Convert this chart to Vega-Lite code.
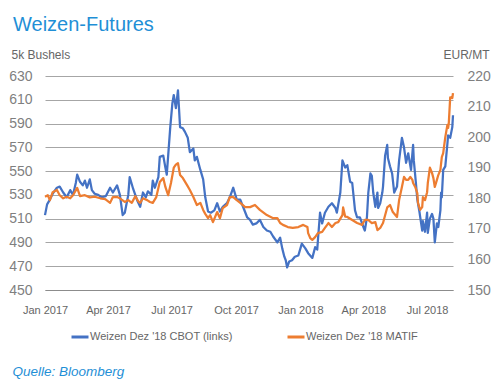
{
  "$schema": "https://vega.github.io/schema/vega-lite/v6.json",
  "width": 408,
  "height": 214,
  "autosize": {"type": "none"},
  "padding": {"left": 45, "top": 76, "right": 44, "bottom": 97},
  "background": "white",
  "title": {"text": "Weizen-Futures", "anchor": "start", "frame": "group", "dx": -32, "offset": -3, "baseline": "alphabetic", "font": "Liberation Sans", "fontSize": 20, "fontWeight": "normal", "color": "#1f8fd6"},
  "config": {
    "view": {"stroke": null},
    "axis": {"labelFont": "Liberation Sans", "titleFont": "Liberation Sans"},
    "legend": {"labelFont": "Liberation Sans", "titleFont": "Liberation Sans"}
  },
  "datasets": {
    "cbot": [
      {"d": "2017-01-01", "v": 513}, {"d": "2017-01-04", "v": 522}, {"d": "2017-01-08", "v": 526}, {"d": "2017-01-12", "v": 531},
      {"d": "2017-01-18", "v": 536}, {"d": "2017-01-22", "v": 537}, {"d": "2017-01-27", "v": 532}, {"d": "2017-02-01", "v": 528},
      {"d": "2017-02-06", "v": 534}, {"d": "2017-02-10", "v": 530}, {"d": "2017-02-14", "v": 540}, {"d": "2017-02-16", "v": 547},
      {"d": "2017-02-20", "v": 541}, {"d": "2017-02-24", "v": 538}, {"d": "2017-02-27", "v": 542}, {"d": "2017-03-02", "v": 536},
      {"d": "2017-03-06", "v": 543}, {"d": "2017-03-09", "v": 534}, {"d": "2017-03-13", "v": 531}, {"d": "2017-03-18", "v": 530},
      {"d": "2017-03-23", "v": 528}, {"d": "2017-03-29", "v": 529}, {"d": "2017-04-04", "v": 536}, {"d": "2017-04-08", "v": 532},
      {"d": "2017-04-14", "v": 538}, {"d": "2017-04-18", "v": 530}, {"d": "2017-04-22", "v": 513}, {"d": "2017-04-25", "v": 515},
      {"d": "2017-04-30", "v": 530}, {"d": "2017-05-02", "v": 545}, {"d": "2017-05-07", "v": 535}, {"d": "2017-05-13", "v": 525},
      {"d": "2017-05-17", "v": 520}, {"d": "2017-05-21", "v": 532}, {"d": "2017-05-25", "v": 528}, {"d": "2017-05-28", "v": 533},
      {"d": "2017-06-02", "v": 530}, {"d": "2017-06-04", "v": 542}, {"d": "2017-06-07", "v": 536}, {"d": "2017-06-12", "v": 545},
      {"d": "2017-06-14", "v": 562}, {"d": "2017-06-19", "v": 563}, {"d": "2017-06-22", "v": 553}, {"d": "2017-06-24", "v": 547},
      {"d": "2017-06-29", "v": 587}, {"d": "2017-07-02", "v": 607}, {"d": "2017-07-04", "v": 614}, {"d": "2017-07-07", "v": 603},
      {"d": "2017-07-10", "v": 618}, {"d": "2017-07-13", "v": 587}, {"d": "2017-07-17", "v": 586}, {"d": "2017-07-20", "v": 583},
      {"d": "2017-07-24", "v": 578}, {"d": "2017-07-27", "v": 566}, {"d": "2017-08-01", "v": 569}, {"d": "2017-08-03", "v": 559},
      {"d": "2017-08-06", "v": 562}, {"d": "2017-08-11", "v": 551}, {"d": "2017-08-15", "v": 543}, {"d": "2017-08-18", "v": 528},
      {"d": "2017-08-22", "v": 516}, {"d": "2017-08-26", "v": 515}, {"d": "2017-08-31", "v": 517}, {"d": "2017-09-04", "v": 523},
      {"d": "2017-09-08", "v": 516}, {"d": "2017-09-12", "v": 520}, {"d": "2017-09-18", "v": 523}, {"d": "2017-09-22", "v": 528},
      {"d": "2017-09-27", "v": 536}, {"d": "2017-10-02", "v": 526}, {"d": "2017-10-07", "v": 526}, {"d": "2017-10-11", "v": 520},
      {"d": "2017-10-17", "v": 511}, {"d": "2017-10-21", "v": 509}, {"d": "2017-10-25", "v": 505}, {"d": "2017-10-30", "v": 506},
      {"d": "2017-11-04", "v": 509}, {"d": "2017-11-09", "v": 503}, {"d": "2017-11-14", "v": 500}, {"d": "2017-11-19", "v": 499},
      {"d": "2017-11-23", "v": 495}, {"d": "2017-11-29", "v": 490}, {"d": "2017-12-03", "v": 494}, {"d": "2017-12-06", "v": 485},
      {"d": "2017-12-09", "v": 478}, {"d": "2017-12-11", "v": 475}, {"d": "2017-12-13", "v": 469}, {"d": "2017-12-16", "v": 474},
      {"d": "2017-12-20", "v": 475}, {"d": "2017-12-24", "v": 478}, {"d": "2017-12-29", "v": 479}, {"d": "2018-01-03", "v": 489},
      {"d": "2018-01-08", "v": 485}, {"d": "2018-01-12", "v": 481}, {"d": "2018-01-18", "v": 477}, {"d": "2018-01-22", "v": 486},
      {"d": "2018-01-25", "v": 484}, {"d": "2018-01-26", "v": 492}, {"d": "2018-01-29", "v": 515}, {"d": "2018-02-01", "v": 506},
      {"d": "2018-02-05", "v": 515}, {"d": "2018-02-10", "v": 520}, {"d": "2018-02-15", "v": 523}, {"d": "2018-02-20", "v": 519},
      {"d": "2018-02-22", "v": 515}, {"d": "2018-02-27", "v": 532}, {"d": "2018-03-02", "v": 559}, {"d": "2018-03-06", "v": 553},
      {"d": "2018-03-09", "v": 555}, {"d": "2018-03-13", "v": 541}, {"d": "2018-03-16", "v": 540}, {"d": "2018-03-20", "v": 517},
      {"d": "2018-03-23", "v": 511}, {"d": "2018-03-27", "v": 511}, {"d": "2018-04-01", "v": 503}, {"d": "2018-04-03", "v": 500},
      {"d": "2018-04-06", "v": 511}, {"d": "2018-04-08", "v": 532}, {"d": "2018-04-11", "v": 548}, {"d": "2018-04-13", "v": 546},
      {"d": "2018-04-15", "v": 532}, {"d": "2018-04-18", "v": 520}, {"d": "2018-04-21", "v": 532}, {"d": "2018-04-22", "v": 519},
      {"d": "2018-04-25", "v": 523}, {"d": "2018-04-28", "v": 532}, {"d": "2018-04-29", "v": 537}, {"d": "2018-05-02", "v": 563},
      {"d": "2018-05-05", "v": 572}, {"d": "2018-05-06", "v": 561}, {"d": "2018-05-09", "v": 554}, {"d": "2018-05-12", "v": 548},
      {"d": "2018-05-15", "v": 532}, {"d": "2018-05-19", "v": 537}, {"d": "2018-05-22", "v": 559}, {"d": "2018-05-26", "v": 578},
      {"d": "2018-05-29", "v": 570}, {"d": "2018-06-01", "v": 557}, {"d": "2018-06-04", "v": 565}, {"d": "2018-06-08", "v": 551},
      {"d": "2018-06-11", "v": 572}, {"d": "2018-06-12", "v": 559}, {"d": "2018-06-15", "v": 540}, {"d": "2018-06-17", "v": 526},
      {"d": "2018-06-20", "v": 516}, {"d": "2018-06-21", "v": 512}, {"d": "2018-06-24", "v": 500}, {"d": "2018-06-25", "v": 508},
      {"d": "2018-06-28", "v": 499}, {"d": "2018-07-01", "v": 515}, {"d": "2018-07-02", "v": 498}, {"d": "2018-07-05", "v": 510},
      {"d": "2018-07-08", "v": 514}, {"d": "2018-07-10", "v": 510}, {"d": "2018-07-12", "v": 490}, {"d": "2018-07-15", "v": 506},
      {"d": "2018-07-17", "v": 503}, {"d": "2018-07-20", "v": 517}, {"d": "2018-07-21", "v": 532}, {"d": "2018-07-22", "v": 528},
      {"d": "2018-07-24", "v": 551}, {"d": "2018-07-27", "v": 554}, {"d": "2018-07-30", "v": 573}, {"d": "2018-07-31", "v": 580},
      {"d": "2018-08-03", "v": 578}, {"d": "2018-08-06", "v": 587}, {"d": "2018-08-07", "v": 597}
    ],
    "matif": [
      {"d": "2017-01-01", "v": 180.5}, {"d": "2017-01-05", "v": 181}, {"d": "2017-01-08", "v": 179.4}, {"d": "2017-01-12", "v": 182},
      {"d": "2017-01-18", "v": 182.7}, {"d": "2017-01-22", "v": 181}, {"d": "2017-01-27", "v": 180}, {"d": "2017-02-01", "v": 180.5},
      {"d": "2017-02-06", "v": 180}, {"d": "2017-02-10", "v": 181}, {"d": "2017-02-16", "v": 183.4}, {"d": "2017-02-20", "v": 180.7},
      {"d": "2017-02-27", "v": 181}, {"d": "2017-03-06", "v": 180.3}, {"d": "2017-03-13", "v": 180.5}, {"d": "2017-03-21", "v": 180},
      {"d": "2017-03-28", "v": 179.7}, {"d": "2017-04-04", "v": 178.5}, {"d": "2017-04-08", "v": 180.4}, {"d": "2017-04-14", "v": 180.4},
      {"d": "2017-04-18", "v": 180}, {"d": "2017-04-25", "v": 178.8}, {"d": "2017-04-30", "v": 179.4}, {"d": "2017-05-05", "v": 178.5},
      {"d": "2017-05-10", "v": 180.7}, {"d": "2017-05-14", "v": 179.1}, {"d": "2017-05-17", "v": 178.5}, {"d": "2017-05-21", "v": 180},
      {"d": "2017-05-27", "v": 179.4}, {"d": "2017-05-31", "v": 178.8}, {"d": "2017-06-04", "v": 178.5}, {"d": "2017-06-09", "v": 180.4},
      {"d": "2017-06-14", "v": 185.3}, {"d": "2017-06-19", "v": 186.6}, {"d": "2017-06-22", "v": 183.7}, {"d": "2017-06-26", "v": 181},
      {"d": "2017-06-30", "v": 185}, {"d": "2017-07-04", "v": 190}, {"d": "2017-07-07", "v": 191}, {"d": "2017-07-10", "v": 191.5},
      {"d": "2017-07-13", "v": 187.6}, {"d": "2017-07-17", "v": 186.6}, {"d": "2017-07-23", "v": 184.3}, {"d": "2017-07-27", "v": 182.7},
      {"d": "2017-08-01", "v": 180.4}, {"d": "2017-08-06", "v": 177.8}, {"d": "2017-08-11", "v": 178.5}, {"d": "2017-08-15", "v": 176.2},
      {"d": "2017-08-18", "v": 174.9}, {"d": "2017-08-22", "v": 173.5}, {"d": "2017-08-25", "v": 174.5}, {"d": "2017-08-29", "v": 172.2},
      {"d": "2017-09-04", "v": 175.5}, {"d": "2017-09-08", "v": 173.5}, {"d": "2017-09-12", "v": 176.8}, {"d": "2017-09-18", "v": 177.8},
      {"d": "2017-09-22", "v": 180.4}, {"d": "2017-09-27", "v": 180.4}, {"d": "2017-10-02", "v": 179.4}, {"d": "2017-10-07", "v": 178.5},
      {"d": "2017-10-14", "v": 177.1}, {"d": "2017-10-21", "v": 177.1}, {"d": "2017-10-28", "v": 177.8}, {"d": "2017-11-04", "v": 176.2},
      {"d": "2017-11-14", "v": 174.5}, {"d": "2017-11-23", "v": 173.5}, {"d": "2017-11-29", "v": 173.5}, {"d": "2017-12-03", "v": 171.9},
      {"d": "2017-12-07", "v": 171.3}, {"d": "2017-12-14", "v": 170.6}, {"d": "2017-12-21", "v": 170.3}, {"d": "2017-12-29", "v": 170.6},
      {"d": "2018-01-05", "v": 171.3}, {"d": "2018-01-11", "v": 170.6}, {"d": "2018-01-12", "v": 168.6}, {"d": "2018-01-15", "v": 167},
      {"d": "2018-01-18", "v": 166.4}, {"d": "2018-01-22", "v": 167.3}, {"d": "2018-01-26", "v": 168.6}, {"d": "2018-02-01", "v": 169},
      {"d": "2018-02-05", "v": 170.3}, {"d": "2018-02-10", "v": 171.9}, {"d": "2018-02-15", "v": 170.6}, {"d": "2018-02-20", "v": 171.9},
      {"d": "2018-02-24", "v": 172.2}, {"d": "2018-03-02", "v": 174.5}, {"d": "2018-03-03", "v": 177}, {"d": "2018-03-06", "v": 174},
      {"d": "2018-03-09", "v": 173.9}, {"d": "2018-03-16", "v": 172.9}, {"d": "2018-03-23", "v": 171.9}, {"d": "2018-03-30", "v": 171.3},
      {"d": "2018-04-03", "v": 172.9}, {"d": "2018-04-08", "v": 172.9}, {"d": "2018-04-13", "v": 171.9}, {"d": "2018-04-18", "v": 172.2},
      {"d": "2018-04-21", "v": 169.6}, {"d": "2018-04-25", "v": 170.3}, {"d": "2018-04-29", "v": 171.9}, {"d": "2018-05-05", "v": 177},
      {"d": "2018-05-09", "v": 177.8}, {"d": "2018-05-13", "v": 175.5}, {"d": "2018-05-19", "v": 173.9}, {"d": "2018-05-22", "v": 179.4},
      {"d": "2018-05-26", "v": 183.7}, {"d": "2018-05-29", "v": 187}, {"d": "2018-06-01", "v": 186}, {"d": "2018-06-04", "v": 186},
      {"d": "2018-06-07", "v": 187}, {"d": "2018-06-10", "v": 186}, {"d": "2018-06-11", "v": 185}, {"d": "2018-06-14", "v": 183.7},
      {"d": "2018-06-17", "v": 181.7}, {"d": "2018-06-18", "v": 178.5}, {"d": "2018-06-21", "v": 176.2}, {"d": "2018-06-24", "v": 177.1},
      {"d": "2018-06-25", "v": 180.4}, {"d": "2018-06-28", "v": 179.4}, {"d": "2018-07-01", "v": 182}, {"d": "2018-07-02", "v": 185},
      {"d": "2018-07-05", "v": 190}, {"d": "2018-07-08", "v": 188.3}, {"d": "2018-07-10", "v": 186.6}, {"d": "2018-07-12", "v": 183.7},
      {"d": "2018-07-15", "v": 186}, {"d": "2018-07-17", "v": 187.6}, {"d": "2018-07-20", "v": 189.3}, {"d": "2018-07-22", "v": 193.5},
      {"d": "2018-07-24", "v": 194.8}, {"d": "2018-07-27", "v": 200}, {"d": "2018-07-30", "v": 204}, {"d": "2018-07-31", "v": 203},
      {"d": "2018-08-01", "v": 204.6}, {"d": "2018-08-03", "v": 213}, {"d": "2018-08-06", "v": 212.8}, {"d": "2018-08-07", "v": 214.4}
    ]
  },
  "layer": [
    {
      "data": {"name": "cbot"},
      "mark": {"type": "line", "strokeWidth": 2.25, "strokeJoin": "round"},
      "encoding": {
        "x": {
          "field": "d", "type": "temporal",
          "scale": {"type": "utc", "nice": false, "domain": [{"year": 2017, "month": 1, "date": 1, "utc": true}, {"year": 2018, "month": 8, "date": 7, "utc": true}]},
          "axis": {
            "values": [
              {"year": 2017, "month": 1, "date": 1, "utc": true}, {"year": 2017, "month": 4, "date": 1, "utc": true},
              {"year": 2017, "month": 7, "date": 1, "utc": true}, {"year": 2017, "month": 10, "date": 1, "utc": true},
              {"year": 2018, "month": 1, "date": 1, "utc": true}, {"year": 2018, "month": 4, "date": 1, "utc": true},
              {"year": 2018, "month": 7, "date": 1, "utc": true}
            ],
            "format": "%b %Y", "labelFlush": false, "labelOverlap": false, "ticks": false, "grid": false,
            "domainColor": "#8c8c8c", "domainWidth": 1,
            "labelFontSize": 11, "labelColor": "#666666", "labelPadding": 14,
            "title": "Quelle: Bloomberg", "titleX": -33, "titleY": 85, "titleAlign": "left", "titleBaseline": "alphabetic",
            "titleFontStyle": "italic", "titleFontWeight": "normal", "titleFontSize": 13.5, "titleColor": "#1f8fd6"
          }
        },
        "y": {
          "field": "v", "type": "quantitative",
          "scale": {"domain": [450, 630], "nice": false, "zero": false},
          "axis": {
            "values": [450, 470, 490, 510, 530, 550, 570, 590, 610, 630],
            "grid": true, "gridColor": "#a6a6a6", "gridWidth": 1, "domain": false, "ticks": false,
            "labelFontSize": 14, "labelColor": "#7f7f7f", "labelPadding": 13,
            "title": "5k Bushels", "titleAngle": 0, "titleX": -34, "titleY": -18, "titleAlign": "left", "titleBaseline": "alphabetic",
            "titleFontSize": 12, "titleFontWeight": "normal", "titleColor": "#666666"
          }
        },
        "color": {
          "datum": "Weizen Dez '18 CBOT (links)",
          "scale": {"domain": ["Weizen Dez '18 CBOT (links)", "Weizen Dez '18 MATIF"], "range": ["#4472c4", "#ed7d31"]},
          "legend": {
            "orient": "none", "legendX": 25, "legendY": 251, "direction": "horizontal", "title": null, "padding": 0,
            "symbolType": "stroke", "symbolSize": 289, "symbolStrokeWidth": 3,
            "labelFontSize": 11, "labelColor": "#666666", "labelOffset": 0, "columnPadding": 48
          }
        }
      }
    },
    {
      "data": {"name": "matif"},
      "mark": {"type": "line", "strokeWidth": 2.25, "strokeJoin": "round"},
      "encoding": {
        "x": {"field": "d", "type": "temporal"},
        "y": {
          "field": "v", "type": "quantitative",
          "scale": {"domain": [150, 220], "nice": false, "zero": false},
          "axis": {
            "orient": "right",
            "values": [150, 160, 170, 180, 190, 200, 210, 220],
            "grid": false, "domain": false, "ticks": false,
            "labelFontSize": 14, "labelColor": "#7f7f7f", "labelPadding": 14,
            "title": "EUR/MT", "titleAngle": 0, "titleX": -10, "titleY": -18, "titleAlign": "left", "titleBaseline": "alphabetic",
            "titleFontSize": 12, "titleFontWeight": "normal", "titleColor": "#666666"
          }
        },
        "color": {"datum": "Weizen Dez '18 MATIF"}
      }
    }
  ],
  "resolve": {"scale": {"y": "independent"}}
}
